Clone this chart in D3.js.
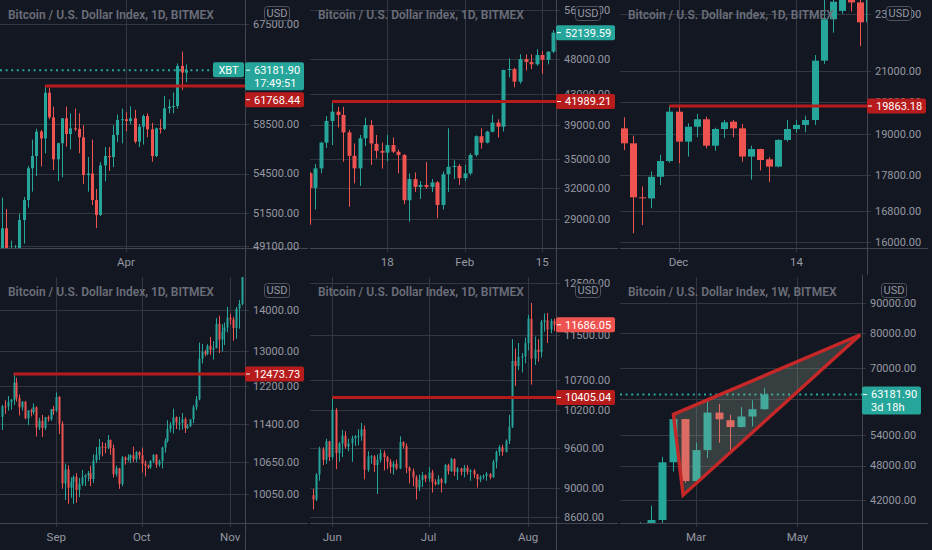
<!DOCTYPE html>
<html><head><meta charset="utf-8">
<script src="https://cdn.jsdelivr.net/npm/d3@7"></script>
<style>html,body{margin:0;padding:0;background:#131722;}svg{display:block;}</style>
</head><body>
<svg id="chart" width="932" height="550"></svg>
<script>
// ---------------- DATA ----------------
const titleDaily = "Bitcoin / U.S. Dollar Index, 1D, BITMEX";
const titleWeekly = "Bitcoin / U.S. Dollar Index, 1W, BITMEX";
const currencyLabel = "USD";
const symbolLabel = "XBT";

// Panel 1 : Mar 3 – Apr 15 2021 daily  [open, high, low, close]
const p1Start = "2021-03-03";
const p1Candles = [
 [48400,52650,48100,50390],[50390,51800,48000,48450],[48450,49510,46300,48750],[48750,49200,47100,48900],
 [48900,51450,48700,50995],[50995,52700,49300,52470],[52470,55100,51900,54910],[54910,57200,53100,55880],
 [55880,58100,54300,57860],[57860,58000,55050,57310],[57310,61768.44,56100,61180],[61180,61600,58900,59060],
 [59060,59970,54775,55620],[55620,56950,53900,56910],[56910,59000,54200,58980],[58980,59970,56630,57670],
 [57670,59400,56400,58140],[58140,59800,57900,58100],[58100,59400,56100,57400],[57400,58400,53700,54380],
 [54380,55800,53100,54500],[54500,57200,52100,52470],[52470,53300,50400,51360],[51360,55400,51300,55140],
 [55140,56600,53900,55880],[55880,56600,54700,55800],[55800,58400,55000,57590],[57590,59300,57000,58835],
 [58835,59800,56900,58900],[58900,59500,57900,58750],[58750,60000,58500,58980],[58980,59700,56900,57040],
 [57040,58500,56600,58280],[58280,59300,56800,59170],[59170,59400,57400,58060],[58060,58600,55430,55880],
 [55880,58200,55800,58140],[58140,58900,57700,58100],[58100,60900,58000,59830],[59830,60600,59400,59970],
 [59970,61200,59400,60030],[60030,63800,59800,63560],[63560,64880,61400,62960],[62960,63700,62100,63181.90]
];
const p1PriceTicks = [49100, 51500, 54500, 58500, 62500, 67500];
const p1TimeTicks = [["2021-04-01","Apr"]];
const p1Level = 61768.44, p1LevelFrom = "2021-03-13";
const p1Countdown = "17:49:51";

// Panel 2 : Jan 4 – Feb 17 2021 daily
const p2Start = "2021-01-04";
const p2Candles = [
 [33500,33650,28500,32000],[32000,34500,29900,34030],[34030,37000,33500,36890],[36890,40100,36300,39500],
 [39500,41989.21,36620,40670],[40670,41300,38700,40250],[40250,41300,34750,38100],[38100,38400,30150,35400],
 [35400,36800,32460,34030],[34030,37800,32200,37400],[37400,39900,36500,39000],[39000,39600,34400,36800],
 [36750,37800,35100,35950],[35950,36900,34000,35750],[35750,37800,34800,36620],[36620,37500,35700,35860],
 [35860,36100,33500,35490],[35490,35600,30400,30780],[30780,33500,28770,32900],[32900,33600,31600,32100],
 [32100,32700,30900,32300],[32300,34700,31900,32100],[32100,32900,31600,32560],[32560,32700,29100,30330],
 [30330,33700,29900,33400],[33400,38600,31600,34200],[34200,34900,32900,34280],[34280,34500,32300,33000],
 [33000,34400,32700,33500],[33500,35700,33300,35490],[35490,37750,35300,37650],[37650,38600,36200,36890],
 [36890,38300,36800,38190],[38190,40300,38100,39300],[39300,39700,37500,38790],[38790,46400,38200,46370],
 [46370,48100,45300,46500],[46500,46700,43900,44700],[44700,48700,44400,47980],[47980,48700,46300,47550],
 [47550,48700,46500,47200],[47200,49500,47000,48600],[48600,49200,45800,47880],[47880,49200,47200,49110],
 [49110,52580,48900,52139.59]
];
const p2PriceTicks = [29000, 32000, 35000, 39000, 43000, 48000, 56000];
const p2TimeTicks = [["2021-01-18","18"],["2021-02-01","Feb"],["2021-02-15","15"]];
const p2Level = 41989.21, p2LevelFrom = "2021-01-08";

// Panel 3 : Nov 25 – Dec 22 2020 daily
const p3Start = "2020-11-25";
const p3Candles = [
 [19170,19510,18520,18720],[18720,18950,16225,17180],[17180,17480,16440,17170],[17150,17900,16885,17750],
 [17750,18380,17520,18200],[18200,19863.18,18150,19685],[19685,19840,18135,18770],[18770,19325,18330,19220],
 [19220,19615,18900,19450],[19450,19530,18570,18650],[18650,19190,18500,19150],[19150,19425,18870,19355],
 [19375,19425,18900,19170],[19170,19305,18180,18330],[18330,18650,17670,18550],[18550,18560,17930,18230],
 [18250,18310,17600,18040],[18040,18840,18020,18820],[18820,19425,18770,19150],[19150,19425,19040,19275],
 [19275,19560,19050,19425],[19425,21540,19275,21350],[21350,23700,21240,22800],[22800,23600,22320,23445],
 [23105,24200,23000,23900],[23900,24300,23090,23420],[23420,24100,21850,22690],[22690,23900,22400,23810]
];
const p3PriceTicks = [16000, 16800, 17800, 19000, 20000, 21000, 23000];
const p3TimeTicks = [["2020-12-01","Dec"],["2020-12-14","14"]];
const p3Level = 19863.18, p3LevelFrom = "2020-11-30";

// Panel 4 : Aug 13 – Nov 5 2020 daily
const p4Start = "2020-08-13";
const p4Candles = [
 [11550,11800,11280,11770],[11770,11900,11610,11765],[11765,11990,11680,11860],[11860,11930,11700,11910],
 [11910,12473.73,11800,12280],[12280,12390,11870,11950],[11950,12020,11580,11750],[11750,11880,11680,11870],
 [11870,11880,11500,11520],[11520,11690,11380,11680],[11680,11720,11560,11650],[11650,11830,11600,11750],
 [11750,11770,11150,11330],[11330,11530,11280,11470],[11470,11590,11140,11320],[11320,11550,11280,11540],
 [11540,11580,11450,11500],[11500,11710,11470,11710],[11710,11780,11590,11680],[11680,12070,11650,11970],
 [11970,11990,11200,11410],[11410,11460,10150,10250],[10250,10620,9950,10510],[10510,10590,9880,10170],
 [10170,10360,9990,10280],[10280,10400,9880,10370],[10370,10440,9900,10130],[10130,10350,10000,10240],
 [10240,10500,10200,10360],[10360,10420,10200,10400],[10400,10480,10290,10440],[10440,10580,10200,10330],
 [10330,10800,10260,10680],[10680,10940,10630,10790],[10790,11100,10690,10950],[10950,11040,10760,10940],
 [10940,11020,10820,10930],[10930,11180,10900,11080],[11080,11090,10790,10920],[10920,10990,10360,10420],
 [10420,10580,10380,10530],[10530,10540,10150,10240],[10240,10770,10200,10740],[10740,10760,10600,10690],
 [10690,10800,10660,10730],[10730,10800,10630,10780],[10780,10950,10650,10700],[10700,10860,10650,10840],
 [10840,10860,10700,10780],[10780,10930,10450,10620],[10620,10680,10380,10580],[10580,10600,10520,10550],
 [10550,10690,10520,10670],[10670,10800,10630,10790],[10790,10800,10540,10600],[10600,10700,10560,10670],
 [10670,10950,10530,10930],[10930,11110,10830,11060],[11060,11480,11030,11300],[11300,11440,11230,11380],
 [11380,11720,11210,11540],[11540,11560,11300,11430],[11430,11550,11280,11430],[11430,11630,11290,11500],
 [11500,11540,11220,11320],[11320,11400,11300,11360],[11360,11490,11340,11500],[11500,11800,11420,11750],
 [11750,11990,11690,11920],[11920,13200,11900,12820],[12820,13170,12710,12980],[12980,13020,12880,12930],
 [12930,13160,12900,13120],[13120,13330,12910,13030],[13030,13230,12800,13070],[13070,13790,13060,13650],
 [13650,13850,12950,13270],[13270,13640,12990,13460],[13460,13680,13140,13560],[13560,14070,13440,13800],
 [13800,13900,13630,13760],[13760,13820,13240,13550],[13550,14070,13290,14030],[14030,14250,13530,14150],
 [14150,15750,14110,15590]
];
const p4PriceTicks = [10050, 10650, 11400, 12200, 13000, 14000];
const p4TimeTicks = [["2020-09-01","Sep"],["2020-10-01","Oct"],["2020-11-01","Nov"]];
const p4Level = 12473.73, p4LevelFrom = "2020-08-17";

// Panel 5 : May 26 – Aug 9 2020 daily
const p5Start = "2020-05-26";
const p5Candles = [
 [8900,8990,8700,8840],[8840,9220,8820,9200],[9200,9620,9110,9580],[9580,9610,9340,9420],
 [9420,9740,9360,9700],[9700,9710,9400,9460],[9460,10405.04,9420,10200],[10200,10230,9280,9520],
 [9520,9690,9390,9670],[9670,9880,9460,9790],[9790,9860,9590,9620],[9620,9740,9550,9670],
 [9670,9790,9390,9750],[9750,9800,9630,9780],[9780,9890,9640,9780],[9780,9990,9710,9890],
 [9890,9950,9130,9270],[9270,9550,9240,9470],[9470,9490,9360,9470],[9470,9490,9240,9340],
 [9340,9500,8920,9420],[9420,9580,9380,9520],[9520,9560,9260,9460],[9460,9480,9280,9390],
 [9390,9430,9220,9310],[9310,9400,9200,9360],[9360,9420,9270,9290],[9290,9780,9280,9690],
 [9690,9700,9590,9630],[9630,9670,9220,9300],[9300,9320,9070,9250],[9250,9290,9030,9160],
 [9160,9190,8840,9010],[9010,9200,8960,9120],[9120,9240,9020,9190],[9190,9200,9090,9140],
 [9140,9310,9100,9230],[9230,9270,8940,9090],[9090,9130,9040,9060],[9060,9190,9050,9130],
 [9130,9150,8940,9080],[9080,9360,9060,9340],[9340,9360,9200,9250],[9250,9450,9240,9430],
 [9430,9440,9180,9240],[9240,9310,9120,9290],[9290,9300,9190,9240],[9240,9340,9160,9300],
 [9300,9340,9200,9240],[9240,9280,9110,9260],[9260,9280,9150,9200],[9200,9210,9010,9130],
 [9130,9190,9090,9160],[9160,9200,9130,9180],[9180,9240,9110,9210],[9210,9220,9130,9160],
 [9160,9420,9150,9390],[9390,9560,9290,9540],[9540,9640,9480,9610],[9610,9650,9480,9540],
 [9540,9730,9530,9710],[9710,10120,9660,9930],[9930,11420,9910,11030],[11030,11250,10600,10940],
 [10940,11350,10870,11100],[11100,11170,10830,11110],[11110,11450,10990,11350],[11350,11870,11220,11800],
 [11800,12100,10620,11070],[11070,11470,10960,11230],[11230,11420,11020,11190],[11190,11780,11090,11740],
 [11740,11900,11560,11770],[11770,11910,11350,11600],[11600,11800,11530,11760],[11760,11800,11570,11686.05]
];
const p5PriceTicks = [8600, 9000, 9600, 10200, 10700, 11500, 12500];
const p5TimeTicks = [["2020-06-01","Jun"],["2020-07-01","Jul"],["2020-08-01","Aug"]];
const p5Level = 10405.04, p5LevelFrom = "2020-06-01";

// Panel 6 : weekly, Jan 18 – Apr 12 2021
const p6Start = "2021-01-18";
const p6Candles = [
 [36000,37850,28800,32100],[32100,38550,29200,34300],[34300,41100,32300,38880],[38880,49630,37400,48600],
 [48600,58300,46900,57450],[57450,57500,44900,45200],[45200,52460,44950,50950],[50950,61770,49400,58900],
 [58900,60900,52400,57400],[57200,58400,50950,55700],[55700,60200,55600,58020],[58020,61770,55850,59680],
 [59680,64800,59550,63181.90]
];
const p6PriceTicks = [42000, 48000, 54000, 62000, 70000, 80000, 90000];
const p6TimeTicks = [["2021-03-01","Mar"],["2021-05-03","May"]];
const p6Countdown = "3d 18h";
const p6WedgeDates = ["2021-02-15", "2021-02-21", "2021-06-11"];
const p6WedgePrices = [58500, 42800, 79600];

// ---------------- LAYOUT / STYLE ----------------
const C = {
  bg: "#131722", grid: "#32363f", border: "#434651", text: "#9598a1", title: "#6b6e79",
  up: "#26a69a", down: "#ef5350", level: "#b71c1c", white: "#ffffff"
};
const FONT = "Roboto, 'Liberation Sans', Arial, sans-serif";
const DAY = 864e5;
const parse = d3.utcParse("%Y-%m-%d");

const panels = [
  {ox:0,   oy:0,   w:245, h:248, ph:275, title:titleDaily,  candles:p1Candles, start:p1Start, step:1, yDomain:[48990,69856],
   anchor:"2021-04-01", xl:-29.508, xr:27.869, pTicks:p1PriceTicks, tTicks:p1TimeTicks, level:p1Level, levelFrom:p1LevelFrom,
   countdown:p1Countdown, symbol:true, dotted:true},
  {ox:310, oy:0,   w:246, h:248, ph:275, title:titleDaily,  candles:p2Candles, start:p2Start, step:1, yDomain:[26490,57780],
   anchor:"2021-01-18", xl:-13.978, xr:30.506, pTicks:p2PriceTicks, tTicks:p2TimeTicks, level:p2Level, levelFrom:p2LevelFrom},
  {ox:620, oy:0,   w:247, h:248, ph:275, title:titleDaily,  candles:p3Candles, start:p3Start, step:1, yDomain:[15850,23510],
   anchor:"2020-12-01", xl:-6.45, xr:20.783, pTicks:p3PriceTicks, tTicks:p3TimeTicks, level:p3Level, levelFrom:p3LevelFrom},
  {ox:0,   oy:277, w:245, h:246, ph:273, title:titleDaily,  candles:p4Candles, start:p4Start, step:1, yDomain:[9546,14847],
   anchor:"2020-09-01", xl:-19.754, xr:66.21, pTicks:p4PriceTicks, tTicks:p4TimeTicks, level:p4Level, levelFrom:p4LevelFrom},
  {ox:310, oy:277, w:246, h:246, ph:273, title:titleDaily,  candles:p5Candles, start:p5Start, step:1, yDomain:[8515,12613],
   anchor:"2020-06-01", xl:-6.947, xr:69.69, pTicks:p5PriceTicks, tTicks:p5TimeTicks, level:p5Level, levelFrom:p5LevelFrom},
  {ox:620, oy:277, w:242, h:246, ph:273, title:titleWeekly, candles:p6Candles, start:p6Start, step:7, yDomain:[38430,99520],
   anchor:"2021-03-01", xl:-47.18, xr:103.04, pTicks:p6PriceTicks, tTicks:p6TimeTicks,
   countdown:p6Countdown, dotted:true, wedge:{dates:p6WedgeDates, prices:p6WedgePrices}}
];

const svg = d3.select("#chart");
svg.append("rect").attr("width",932).attr("height",550).attr("fill",C.bg);
const fmt = d3.format(".2f");

panels.forEach((P, k) => {
  const g = svg.append("g").attr("transform", `translate(${P.ox},${P.oy})`);
  const a = parse(P.anchor).getTime();
  const x = d3.scaleUtc().domain([new Date(a + P.xl*DAY), new Date(a + P.xr*DAY)]).range([0, P.w]);
  const y = d3.scaleLog().domain(P.yDomain).range([P.h, 0]);
  const px = v => Math.round(x(v)) + 0.5;
  const py = v => Math.round(y(v)) + 0.5;

  const defs = svg.append("defs");
  defs.append("clipPath").attr("id", "clip"+k).append("rect")
    .attr("x",0).attr("y",0).attr("width",P.w).attr("height",P.h);
  defs.append("clipPath").attr("id", "lclip"+k).append("rect")
    .attr("x",-40).attr("y",0).attr("width",P.w+110).attr("height",P.h);

  // grid
  g.append("g").selectAll("line").data(P.pTicks).join("line")
    .attr("x1",0).attr("x2",P.w+4).attr("y1",d=>py(d)).attr("y2",d=>py(d))
    .attr("stroke",C.grid).attr("stroke-width",1);
  g.append("g").selectAll("line").data(P.tTicks).join("line")
    .attr("x1",d=>px(parse(d[0]))).attr("x2",d=>px(parse(d[0])))
    .attr("y1",0).attr("y2",P.h+4).attr("stroke",C.grid).attr("stroke-width",1);

  // borders
  g.append("line").attr("x1",P.w+0.5).attr("x2",P.w+0.5).attr("y1",P.oy?-2:0).attr("y2",P.ph)
    .attr("stroke",C.border);
  g.append("line").attr("x1",0).attr("x2",308).attr("y1",P.h+0.5).attr("y2",P.h+0.5)
    .attr("stroke",C.border);

  // price tick labels
  g.append("g").selectAll("text").data(P.pTicks).join("text")
    .attr("x",P.w+8).attr("y",d=>y(d)).attr("dy","0.35em")
    .attr("fill",C.text).attr("font-family",FONT).attr("font-size",11).text(d=>fmt(d));
  // time tick labels
  g.append("g").selectAll("text").data(P.tTicks).join("text")
    .attr("x",d=>x(parse(d[0]))).attr("y",P.h+14).attr("dy","0.35em").attr("text-anchor","middle")
    .attr("fill",C.text).attr("font-family",FONT).attr("font-size",11.5).text(d=>d[1]);

  // candles
  const t0 = parse(P.start).getTime();
  const data = P.candles.map((c,i)=>({date:new Date(t0 + i*P.step*DAY), o:c[0], h:c[1], l:c[2], c:c[3]}));
  const stepPx = x(new Date(t0 + P.step*DAY)) - x(new Date(t0));
  const bw = Math.max(1, Math.round(stepPx*0.72));
  const cg = g.append("g").attr("clip-path",`url(#clip${k})`);
  cg.selectAll("line.w").data(data).join("line").attr("class","w")
    .attr("x1",d=>px(d.date)).attr("x2",d=>px(d.date))
    .attr("y1",d=>y(d.h)).attr("y2",d=>y(d.l))
    .attr("stroke",d=>d.c>=d.o?C.up:C.down).attr("stroke-width",1);
  cg.selectAll("rect.b").data(data).join("rect").attr("class","b")
    .attr("x",d=>Math.round(x(d.date)) + 0.5 - bw/2)
    .attr("width",bw)
    .attr("y",d=>y(Math.max(d.o,d.c)))
    .attr("height",d=>Math.max(1, Math.abs(y(d.o)-y(d.c))))
    .attr("fill",d=>d.c>=d.o?C.up:C.down);

  const last = data[data.length-1];
  const lastColor = last.c>=last.o ? C.up : C.down;
  const yLast = y(last.c);

  // level line
  if (P.level) {
    cg.append("line").attr("x1",x(parse(P.levelFrom))).attr("x2",P.w)
      .attr("y1",y(P.level)).attr("y2",y(P.level))
      .attr("stroke",C.level).attr("stroke-width",3);
  }
  // dotted last price line
  if (P.dotted) {
    cg.append("line").attr("x1",0).attr("x2",P.symbol ? P.w-32 : P.w)
      .attr("y1",yLast).attr("y2",yLast)
      .attr("stroke",C.up).attr("stroke-width",2).attr("stroke-dasharray","2 3.6");
  }
  // wedge
  if (P.wedge) {
    const pts = P.wedge.dates.map((d,i)=>[x(parse(d)), y(P.wedge.prices[i])]);
    cg.append("polygon").attr("points",pts.map(p=>p.join(",")).join(" "))
      .attr("fill","rgba(160,178,155,0.25)").attr("stroke","#c62828")
      .attr("stroke-width",3.4).attr("stroke-linejoin","miter");
  }

  // labels (clipped to the plot's vertical extent)
  const lines = [fmt(last.c)].concat(P.countdown ? [P.countdown] : []);
  const lh = lines.length>1 ? 28 : 15;
  const lTop = lines.length>1 ? yLast-8 : yLast-7.5;
  const lb = g.append("g").attr("clip-path",`url(#lclip${k})`);
  if (P.level) {
    let t = y(P.level) - 7.5;
    if (t < lTop+lh+2 && t+15 > lTop-2) t = lTop+lh+2;
    lb.append("rect").attr("x",P.w).attr("y",t).attr("width",59).attr("height",15).attr("rx",2).attr("fill",C.level);
    lb.append("line").attr("x1",P.w+1).attr("x2",P.w+5).attr("y1",t+7.5).attr("y2",t+7.5).attr("stroke",C.white);
    lb.append("text").attr("x",P.w+9).attr("y",t+7.5).attr("dy","0.35em").attr("fill",C.white)
      .attr("font-family",FONT).attr("font-size",11).text(fmt(P.level));
  }
  lb.append("rect").attr("x",P.w).attr("y",lTop).attr("width",59).attr("height",lh).attr("rx",2).attr("fill",lastColor);
  lb.append("line").attr("x1",P.w+1).attr("x2",P.w+5).attr("y1",yLast).attr("y2",yLast).attr("stroke",C.white);
  lines.forEach((s,i)=>{
    lb.append("text").attr("x",P.w+9).attr("y",yLast + i*13).attr("dy","0.35em").attr("fill",C.white)
      .attr("font-family",FONT).attr("font-size",11).text(s);
  });
  if (P.symbol) {
    lb.append("rect").attr("x",P.w-32).attr("y",lTop).attr("width",31).attr("height",15).attr("rx",2).attr("fill",lastColor);
    lb.append("text").attr("x",P.w-16.5).attr("y",lTop+7.5).attr("dy","0.35em").attr("text-anchor","middle")
      .attr("fill",C.white).attr("font-family",FONT).attr("font-size",11).text(symbolLabel);
  }

  // currency box
  g.append("rect").attr("x",P.w+19.5).attr("y",6.5).attr("width",25).attr("height",14).attr("rx",3)
    .attr("fill",C.bg).attr("stroke","#50535e");
  g.append("text").attr("x",P.w+32).attr("y",13.5).attr("dy","0.35em").attr("text-anchor","middle")
    .attr("fill",C.text).attr("font-family",FONT).attr("font-size",11).text(currencyLabel);

  // title
  g.append("text").attr("x",8).attr("y",19).attr("fill",C.title).attr("font-family",FONT)
    .attr("font-size",12).attr("font-weight",600).text(P.title);
});
</script>
</body></html>
